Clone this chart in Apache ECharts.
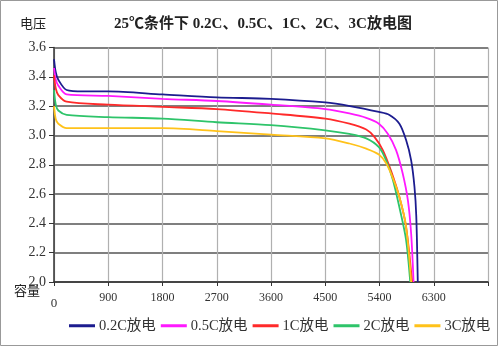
<!DOCTYPE html>
<html><head><meta charset="utf-8">
<script src="https://cdn.jsdelivr.net/npm/echarts@6/dist/echarts.min.js"></script>
<style>html,body{margin:0;padding:0;background:#fff}#c{width:502px;height:350px}</style>
</head><body><div id="c"></div>
<script>
var seriesNames = ['0.2C放电', '0.5C放电', '1C放电', '2C放电', '3C放电'];
var colors = ['#1c1c8f', '#ff19ff', '#ff2a2a', '#2ec46a', '#ffc21a'];
var cap02 = [0, 30, 72, 210, 486, 900, 1800, 2700, 3600, 4500, 4910, 5390, 5565, 5730, 5840, 5925, 5980, 6010, 6035];
var v02 = [3.52, 3.43, 3.38, 3.31, 3.30, 3.30, 3.28, 3.26, 3.25, 3.225, 3.20, 3.16, 3.14, 3.08, 2.97, 2.83, 2.65, 2.45, 2.0];
var cap05 = [0, 30, 72, 210, 900, 1800, 2700, 3600, 4500, 4900, 5180, 5390, 5540, 5675, 5785, 5870, 5925, 5965];
var v05 = [3.46, 3.38, 3.34, 3.28, 3.27, 3.25, 3.235, 3.21, 3.18, 3.15, 3.12, 3.08, 3.01, 2.90, 2.74, 2.56, 2.33, 2.0];
var cap1 = [0, 30, 72, 210, 900, 1800, 2700, 3600, 4500, 4900, 5180, 5315, 5455, 5590, 5730, 5840, 5940];
var v1 = [3.41, 3.32, 3.275, 3.23, 3.21, 3.195, 3.18, 3.15, 3.115, 3.08, 3.04, 2.99, 2.90, 2.76, 2.58, 2.38, 2.0];
var cap2 = [0, 30, 72, 210, 900, 1800, 2700, 3600, 4500, 4900, 5180, 5390, 5510, 5620, 5730, 5840, 5910];
var v2 = [3.31, 3.21, 3.17, 3.14, 3.125, 3.115, 3.09, 3.07, 3.035, 3.01, 2.98, 2.92, 2.83, 2.70, 2.51, 2.29, 2.0];
var cap3 = [0, 30, 72, 210, 900, 1800, 2700, 3600, 4500, 4900, 5180, 5390, 5510, 5620, 5730, 5840, 5925];
var v3 = [3.20, 3.11, 3.08, 3.05, 3.05, 3.05, 3.03, 3.005, 2.98, 2.945, 2.91, 2.87, 2.81, 2.71, 2.58, 2.38, 2.0];

var caps = [cap02, cap05, cap1, cap2, cap3];
var volts = [v02, v05, v1, v2, v3];
function pairs(a, b) { return a.map(function (x, i) { return [x, b[i]]; }); }

var FONT = '"Liberation Serif", "Noto Sans CJK SC", serif';
var chart = echarts.init(document.getElementById('c'));
chart.setOption({
  animation: false,
  backgroundColor: '#fff',
  title: {
    text: '25℃条件下 0.2C、0.5C、1C、2C、3C放电图',
    left: 258, top: 12, textAlign: 'center',
    textStyle: { fontFamily: FONT, fontSize: 15, fontWeight: 'bold', color: '#222' }
  },
  graphic: [
    { type: 'rect', shape: { x: 0.5, y: 0.5, width: 497, height: 345 }, style: { fill: 'none', stroke: '#999', lineWidth: 1 } },
    { type: 'text', left: 20, top: 17, style: { text: '电压', font: '13px "Noto Sans CJK SC"', fill: '#222' } },
    { type: 'text', left: 14, top: 284, style: { text: '容量', font: '13px "Noto Sans CJK SC"', fill: '#222' } }
  ],
  legend: {
    bottom: 12, left: 64, itemWidth: 26, itemHeight: 3, itemGap: 5,
    icon: 'rect',
    textStyle: { fontFamily: FONT, fontSize: 14.5, color: '#333', padding: [0, 0, 0, -1] },
    data: seriesNames
  },
  grid: { left: 54, right: 14, top: 47.5, bottom: 68, containLabel: false },
  xAxis: {
    type: 'value', min: 0, max: 7200, interval: 900,
    axisLine: { show: true, lineStyle: { color: '#333', width: 1.5 } },
    axisTick: { show: true, length: 4, lineStyle: { color: '#333' } },
    axisLabel: {
      fontFamily: FONT, fontSize: 12, color: '#333', margin: 10,
      formatter: function (v) { if (v === 7200) return ''; if (v === 0) return '{z|0}'; return String(v); },
      rich: { z: { fontFamily: FONT, fontSize: 13, color: '#333', padding: [5, 0, 0, 0] } }
    },
    splitLine: { show: true, lineStyle: { color: '#b0b0b0', width: 1.2 } }
  },
  yAxis: {
    type: 'value', min: 2.0, max: 3.6, interval: 0.2,
    axisLine: { show: true, lineStyle: { color: '#333', width: 1.5 } },
    axisTick: { show: true, length: 5, lineStyle: { color: '#333' } },
    axisLabel: {
      fontFamily: FONT, fontSize: 14, color: '#333', margin: 8,
      formatter: function (v) { return v.toFixed(1); }
    },
    splitLine: { show: true, lineStyle: { color: '#555', width: 1.5 } }
  },
  series: seriesNames.map(function (n, i) {
    return {
      name: n, type: 'line', showSymbol: false, symbol: 'none',
      smooth: 0.3,
      data: pairs(caps[i], volts[i]),
      lineStyle: { color: colors[i], width: 1.8 },
      itemStyle: { color: colors[i] }
    };
  })
});
</script></body></html>
